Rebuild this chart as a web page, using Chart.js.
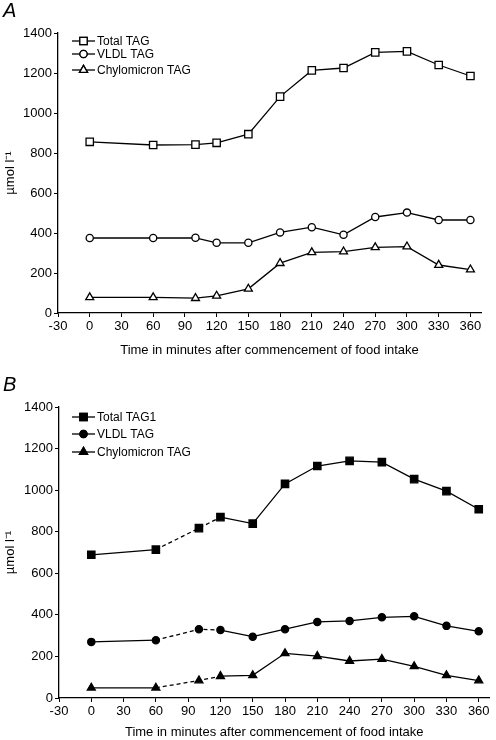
<!DOCTYPE html>
<html>
<head>
<meta charset="utf-8">
<script src="https://cdn.jsdelivr.net/npm/chart.js@4"></script>
<style>
  body { margin: 0; background: #fff; }
  .panel { position: absolute; left: 0; width: 496px; height: 370px; }
</style>
</head>
<body>
<div class="panel" style="top:0"><canvas id="chartA" width="496" height="370"></canvas></div>
<div class="panel" style="top:370px"><canvas id="chartB" width="496" height="370"></canvas></div>
<script>
// sampling times (minutes after commencement of food intake)
const minutes = [0, 60, 100, 120, 150, 180, 210, 240, 270, 300, 330, 360]
const xTicks = [-30, 0, 30, 60, 90, 120, 150, 180, 210, 240, 270, 300, 330, 360]

// panel A
const totalA = [856, 840, 842, 851, 894, 1082, 1213, 1225, 1303, 1308, 1240, 1185]
const vldlA = [375, 375, 376, 351, 351, 403, 429, 391, 480, 502, 465, 465]
const chyloA = [78, 78, 74, 86, 121, 249, 303, 307, 328, 332, 240, 217]

// panel B
const totalB = [689, 714, 817, 870, 839, 1030, 1116, 1141, 1135, 1053, 995, 908]
const vldlB = [270, 278, 331, 327, 295, 331, 366, 371, 388, 393, 347, 321]
const chyloB = [49, 49, 84, 105, 109, 215, 201, 178, 187, 152, 109, 84]

// segments between these times are drawn dashed in panel B
const dashedFrom = [60, 100]

const labelsA = ['Total TAG', 'VLDL TAG', 'Chylomicron TAG']
const labelsB = ['Total TAG1', 'VLDL TAG', 'Chylomicron TAG']

const FONT = 'Arial, "Liberation Sans", Helvetica, sans-serif'

// build one dataset
const makeSet = (label, values, style, radius, filled, dashed) => ({
  label: label,
  data: values.map((v, i) => ({ x: minutes[i], y: v })),
  borderColor: '#000',
  borderWidth: 1.3,
  pointStyle: style,
  pointRadius: radius,
  pointHoverRadius: radius,
  pointBorderWidth: 1.3,
  pointBorderColor: '#000',
  pointBackgroundColor: filled ? '#000' : '#fff',
  segment: {
    borderDash: ctx => (dashed && dashedFrom.includes(ctx.p0.parsed.x)) ? [4, 3] : undefined
  }
})

// draws panel letter and the little line+marker legend
const extrasPlugin = {
  id: 'extras',
  afterDraw(chart, args, opts) {
    const ctx = chart.ctx
    ctx.save()
    ctx.fillStyle = '#000'
    ctx.font = 'italic 20px ' + FONT
    ctx.textBaseline = 'middle'
    ctx.textAlign = 'left'
    ctx.fillText(opts.letter, 3, opts.letterY)

    ctx.font = '12px ' + FONT
    chart.data.datasets.forEach((ds, i) => {
      const y = opts.rows[i]
      ctx.strokeStyle = '#000'
      ctx.lineWidth = 1.3
      ctx.setLineDash([])
      ctx.beginPath()
      ctx.moveTo(72, y)
      ctx.lineTo(95, y)
      ctx.stroke()
      Chart.helpers.drawPoint(ctx, {
        pointStyle: ds.pointStyle,
        radius: ds.pointRadius,
        borderWidth: 1.3,
        rotation: 0
      }, 83.5, y)
      ctx.fillStyle = ds.pointBackgroundColor
      ctx.fill()
      ctx.stroke()
      ctx.fillStyle = '#000'
      ctx.fillText(ds.label, 97, y + 0.5)
    })
    ctx.restore()
  }
}

const makeChart = (id, labels, totals, vldl, chylo, filled, dashed, geo) => {
  const ctx = document.getElementById(id).getContext('2d')
  return new Chart(ctx, {
    type: 'line',
    data: {
      datasets: [
        makeSet(labels[0], totals, 'rect', 5.2, filled, dashed),
        makeSet(labels[1], vldl, 'circle', 3.6, filled, dashed),
        makeSet(labels[2], chylo, 'triangle', 4.6, filled, dashed)
      ]
    },
    plugins: [extrasPlugin],
    options: {
      responsive: false,
      animation: false,
      layout: { padding: { top: geo.top, right: geo.right, bottom: 0, left: 0 } },
      plugins: {
        legend: { display: false },
        tooltip: { enabled: false },
        extras: { letter: geo.letter, letterY: geo.letterY, rows: geo.rows }
      },
      scales: {
        x: {
          type: 'linear',
          min: -30,
          max: 370,
          afterBuildTicks: axis => { axis.ticks = xTicks.map(v => ({ value: v })) },
          afterFit: axis => { axis.height = geo.xHeight },
          grid: { drawOnChartArea: false, color: '#000', tickLength: 4, tickWidth: 1 },
          border: { color: '#000', width: 1.3 },
          ticks: { color: '#000', font: { family: FONT, size: 13 }, padding: 2, maxRotation: 0, autoSkip: false,
            callback: v => String(v) },
          title: {
            display: true,
            text: 'Time in minutes after commencement of food intake',
            color: '#000',
            font: { family: FONT, size: 13 },
            padding: { top: 0, bottom: geo.titlePad }
          }
        },
        y: {
          min: 0,
          max: 1400,
          afterFit: axis => { axis.width = geo.yWidth },
          grid: { drawOnChartArea: false, color: '#000', tickLength: 4, tickWidth: 1 },
          border: { color: '#000', width: 1.3 },
          ticks: { stepSize: 200, color: '#000', font: { family: FONT, size: 13 }, padding: 2,
            callback: v => String(v) },
          title: {
            display: true,
            text: 'µmol l⁻¹',
            color: '#000',
            font: { family: FONT, size: 13 },
            padding: { top: 3, bottom: 0 }
          }
        }
      }
    }
  })
}

makeChart('chartA', labelsA, totalA, vldlA, chyloA, false, false, {
  top: 33, right: 15, xHeight: 57, yWidth: 58, titlePad: 12,
  letter: 'A', letterY: 11, rows: [41, 54, 70]
})
makeChart('chartB', labelsB, totalB, vldlB, chyloB, true, true, {
  top: 37, right: 1, xHeight: 42, yWidth: 59, titlePad: 0,
  letter: 'B', letterY: 15, rows: [47, 64, 82]
})
</script>
</body>
</html>
